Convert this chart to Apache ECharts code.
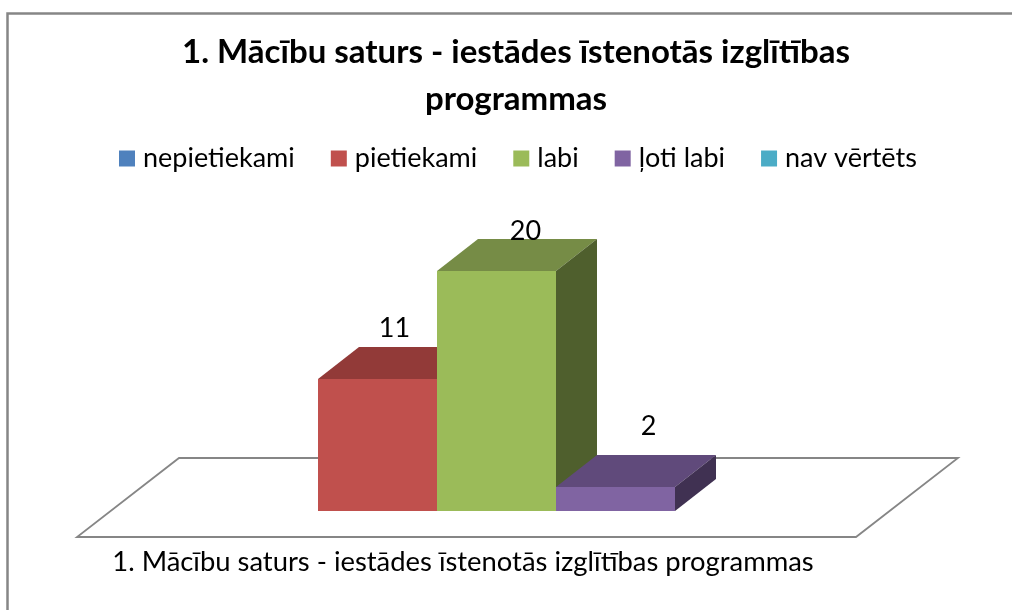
<!DOCTYPE html>
<html>
<head>
<meta charset="utf-8">
<style>html,body{margin:0;padding:0;background:#fff}#c{width:1012px;height:610px}</style>
<script src="https://cdn.jsdelivr.net/npm/echarts@6/dist/echarts.min.js"></script>
</head>
<body>
<div id="c"></div>
<script>
const titleText = '1. Mācību saturs - iestādes īstenotās izglītības\nprogrammas';
const categories = ['1. Mācību saturs - iestādes īstenotās izglītības programmas'];
const seriesNames = ['nepietiekami', 'pietiekami', 'labi', 'ļoti labi', 'nav vērtēts'];
const seriesValues = [null, 11, 20, 2, null];
const frontColors = ['#4F81BD', '#C0504D', '#9BBB59', '#8064A2', '#4BACC6'];
const topColors = ['#3B6190', '#923A38', '#768C46', '#604A7B', '#38819A'];
const sideColors = ['#2A4668', '#6E2B2A', '#4F5F2D', '#403152', '#265E70'];
const labelNudgeX = [0, 17, 29, 33, 0];
const labelNudgeY = [0, 51, 40, 61, 0];
const depthX = 41, depthY = 32;
const floorLeft = 122, floorRight = 62, floorDrop = 26, floorDepthX = 102, floorDepthY = 79;
const FONT = 'Lato, Carlito, "Open Sans", sans-serif';
const GREY = '#868686';

function barSeries(name, i) {
  return {
    name: name, type: 'custom', z: 3 + i,
    itemStyle: { color: frontColors[i] },
    clip: false,
    data: [[0, seriesValues[i]]],
    encode: { x: 0, y: 1 },
    renderItem: function (params, api) {
      const v = api.value(1);
      if (v == null || isNaN(v)) return;
      const base = api.coord([0, 0]);
      const tip = api.coord([0, v]);
      const band = api.size([1, 0])[0];
      const slot = band / seriesNames.length;
      const x0 = base[0] - band / 2 + slot * i, x1 = x0 + slot;
      const y0 = base[1], y1 = tip[1];
      const poly = (pts, c) => ({ type: 'polygon', shape: { points: pts }, style: { fill: c } });
      return { type: 'group', children: [
        poly([[x0, y1], [x0 + depthX, y1 - depthY], [x1 + depthX, y1 - depthY], [x1, y1]], topColors[i]),
        poly([[x1, y1], [x1 + depthX, y1 - depthY], [x1 + depthX, y0 - depthY], [x1, y0]], sideColors[i]),
        poly([[x0, y1], [x1, y1], [x1, y0], [x0, y0]], frontColors[i]),
        { type: 'text', z2: 100, style: {
            x: (x0 + x1) / 2 + labelNudgeX[i], y: y1 - labelNudgeY[i],
            text: String(v), fill: '#000', font: '27px ' + FONT, align: 'center', verticalAlign: 'middle'
        } }
      ] };
    }
  };
}

const floorSeries = {
  type: 'custom', silent: true, z: 1, clip: false,
  data: [[0, 0]],
  encode: { x: 0, y: 1 },
  renderItem: function (params, api) {
    const base = api.coord([0, 0]);
    const band = api.size([1, 0])[0];
    const fy = base[1] + floorDrop;
    const l = base[0] - band / 2 - floorLeft, r = base[0] + band / 2 + floorRight;
    return { type: 'polygon', shape: { points: [
      [l, fy], [r, fy], [r + floorDepthX, fy - floorDepthY], [l + floorDepthX, fy - floorDepthY]
    ] }, style: { fill: '#fff', stroke: GREY, lineWidth: 1.8 } };
  }
};

const chart = echarts.init(document.getElementById('c'), null, { renderer: 'canvas' });
chart.setOption({
  animation: false,
  backgroundColor: '#fff',
  title: {
    text: titleText, left: 511, top: 24, textAlign: 'center',
    textStyle: { fontFamily: FONT, fontWeight: 'bold', fontSize: 33, lineHeight: 47, color: '#000' }
  },
  legend: {
    data: seriesNames, left: 119, top: 145, padding: 0, icon: 'rect',
    itemWidth: 16, itemHeight: 16, itemGap: 36,
    selectedMode: false,
    textStyle: { fontFamily: FONT, fontSize: 27, color: '#000', padding: [0, 0, 0, 3] }
  },
  grid: { left: 199, right: 218, top: 271, bottom: 99 },
  xAxis: {
    type: 'category', data: categories,
    axisLine: { show: false }, axisTick: { show: false }, splitLine: { show: false },
    axisLabel: { margin: 38, fontFamily: FONT, fontSize: 27.4, color: '#000', padding: [0, 67, 0, 0], interval: 0 }
  },
  yAxis: { type: 'value', min: 0, max: 20, show: false, splitLine: { show: false } },
  graphic: [{
    type: 'polyline', silent: true, z: 0,
    shape: { points: [[7.5, 610], [7.5, 13.5], [1012, 13.5]] },
    style: { stroke: GREY, lineWidth: 2.5, fill: 'none' }
  }],
  series: [floorSeries].concat(seriesNames.map(barSeries))
});
</script>
</body>
</html>
